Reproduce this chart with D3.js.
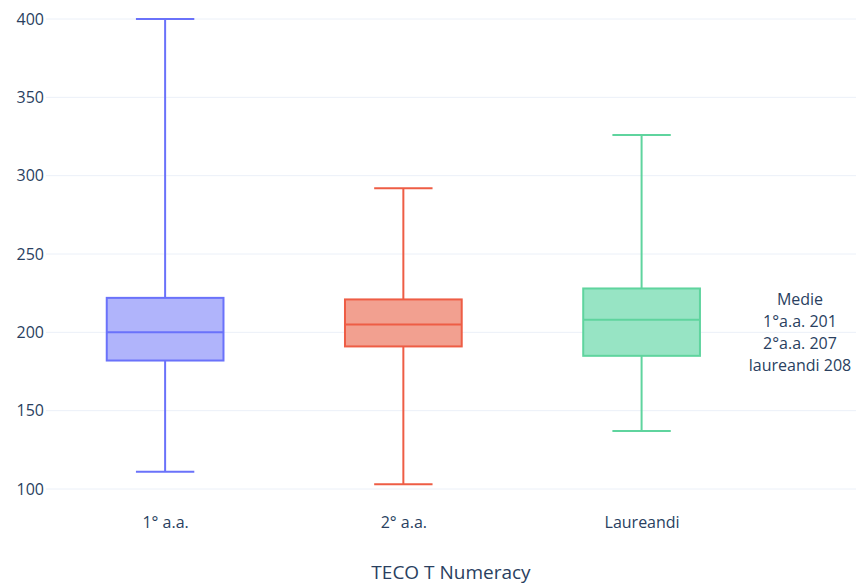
<!DOCTYPE html>
<html>
<head>
<meta charset="utf-8">
<script src="https://cdn.jsdelivr.net/npm/d3@7"></script>
<style>
  html, body { margin: 0; padding: 0; background: #fff; }
  svg { display: block; font-family: "Open Sans", sans-serif; }
</style>
</head>
<body>
<svg id="chart" width="856" height="585"></svg>
<script>
// ---- data ----
const categories = ["1° a.a.", "2° a.a.", "Laureandi"];
const whiskerLow  = [111, 103, 137];
const q1Values    = [182, 191, 185];
const medians     = [200, 205, 208];
const q3Values    = [222, 221, 228];
const whiskerHigh = [400, 292, 326];
const yTicks = [100, 150, 200, 250, 300, 350, 400];
const lineColors = ["#6a72fa", "#ee5d45", "#5fd49e"];
const fillColors = ["#b0b4fb", "#f2a090", "#97e4c4"];
const xTitle = "TECO T Numeracy";
const noteLines = ["Medie", "1°a.a. 201", "2°a.a. 207", "laureandi 208"];

// ---- layout ----
const svg = d3.select("#chart");
const left = 46, right = 856;
const x = d3.scaleLinear().domain([-0.5, 2.9]).range([left, right]);
const y = d3.scaleLinear().domain([100, 400]).range([489, 19]);
const boxW = 0.49;
const textColor = "#2a3f5f";

// grid
svg.append("g").selectAll("line").data(yTicks).join("line")
  .attr("x1", left).attr("x2", right)
  .attr("y1", d => y(d)).attr("y2", d => y(d))
  .attr("stroke", "#ebf0f8").attr("stroke-width", 1);

// y axis labels
const yAxis = d3.axisLeft(y).tickValues(yTicks).tickSize(0).tickPadding(2);
const yg = svg.append("g").attr("transform", `translate(${left},0)`).call(yAxis);
yg.select(".domain").remove();
yg.selectAll("text").attr("fill", textColor).style("font-size", "16px")
  .style("font-family", '"Open Sans", sans-serif');

// x axis labels
const xAxis = d3.axisBottom(x).tickValues(categories.map((c, i) => i))
  .tickFormat(i => categories[i]).tickSize(0).tickPadding(0);
const xg = svg.append("g").attr("transform", `translate(0,${y(100)})`).call(xAxis);
xg.select(".domain").remove();
xg.selectAll("text").attr("fill", textColor).style("font-size", "16px")
  .style("font-family", '"Open Sans", sans-serif')
  .attr("dy", null).attr("y", 39);

// boxes
const data = categories.map((c, i) => ({
  i, lo: whiskerLow[i], q1: q1Values[i], med: medians[i], q3: q3Values[i], hi: whiskerHigh[i]
}));
const g = svg.append("g").selectAll("g").data(data).join("g");
g.each(function(d) {
  const s = d3.select(this);
  const cx = x(d.i);
  const hw = (x(boxW) - x(0)) / 2;
  const cw = hw / 2;
  const col = lineColors[d.i];
  // whiskers
  s.append("line").attr("x1", cx).attr("x2", cx).attr("y1", y(d.hi)).attr("y2", y(d.q3))
    .attr("stroke", col).attr("stroke-width", 2);
  s.append("line").attr("x1", cx).attr("x2", cx).attr("y1", y(d.q1)).attr("y2", y(d.lo))
    .attr("stroke", col).attr("stroke-width", 2);
  // caps
  [d.hi, d.lo].forEach(v => {
    s.append("line").attr("x1", cx - cw).attr("x2", cx + cw).attr("y1", y(v)).attr("y2", y(v))
      .attr("stroke", col).attr("stroke-width", 2);
  });
  // box
  s.append("rect").attr("x", cx - hw).attr("y", y(d.q3))
    .attr("width", 2 * hw).attr("height", y(d.q1) - y(d.q3))
    .attr("fill", fillColors[d.i]).attr("stroke", col).attr("stroke-width", 2);
  // median
  s.append("line").attr("x1", cx - hw).attr("x2", cx + hw).attr("y1", y(d.med)).attr("y2", y(d.med))
    .attr("stroke", col).attr("stroke-width", 2);
});

// x title
svg.append("text").attr("x", (left + right) / 2).attr("y", 579)
  .attr("text-anchor", "middle").attr("fill", textColor).style("font-size", "19px")
  .text(xTitle);

// annotation
svg.append("g").selectAll("text").data(noteLines).join("text")
  .attr("x", 800).attr("y", (d, k) => 305 + k * 22)
  .attr("text-anchor", "middle").attr("fill", textColor).style("font-size", "16px")
  .text(d => d);
</script>
</body>
</html>
